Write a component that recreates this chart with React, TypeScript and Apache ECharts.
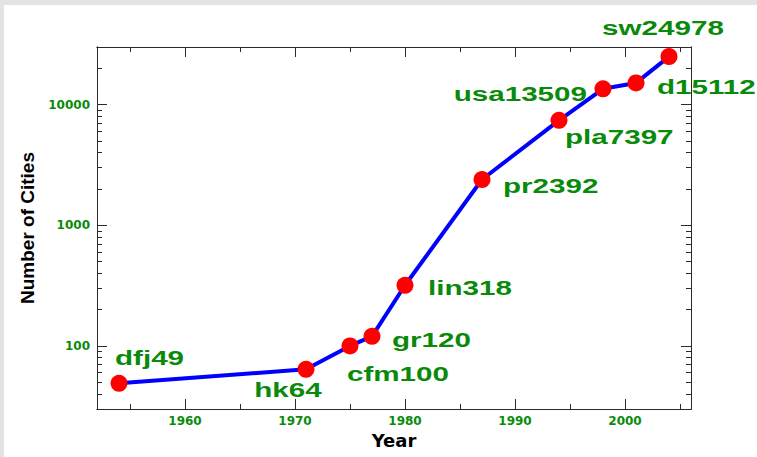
import React, { useEffect, useRef } from "react";
import * as echarts from "echarts";

// ---- data ----
const years = [1954, 1971, 1975, 1977, 1980, 1987, 1994, 1998, 2001, 2004];
const cities = [49, 64, 100, 120, 318, 2392, 7397, 13509, 15112, 24978];
const codes = ["dfj", "hk", "cfm", "gr", "lin", "pr", "pla", "usa", "d", "sw"];

const xMajorTicks = [1960, 1970, 1980, 1990, 2000];
const xMinorTicks = [1955, 1965, 1975, 1985, 1995, 2005];
const yMajorTicks = [100, 1000, 10000];
const yMinorTicks = [
  40, 50, 60, 70, 80, 90, 200, 300, 400, 500, 600, 700, 800, 900, 2000, 3000,
  4000, 5000, 6000, 7000, 8000, 9000, 20000,
];

// ---- label placement (pixel offsets from the point) ----
const labelDx = [-4, -18, -3, 20, 23, 21, 6, -16, 21, -6];
const labelDy = [-25, 21, 28, 4, 3, 6, 17, 5, 4, -29];
const labelAlign = ["left", "center", "left", "left", "left", "left", "left", "right", "left", "center"];

const GREEN = "#0a8a0a";
const AXIS = "#2a2a2a";

export default function App() {
  const ref = useRef<HTMLDivElement>(null);

  useEffect(() => {
    if (!ref.current) return;
    const chart = echarts.init(ref.current, null, { renderer: "svg" });

    const pts = years.map((y, i) => [y, cities[i]]);
    const plain = (v: number) => String(Math.round(v));

    const xBase = {
      type: "value",
      min: 1952,
      max: 2006,
      splitLine: { show: false },
      axisLine: { show: true, onZero: false, lineStyle: { color: AXIS, width: 1 } },
    };
    const yBase = {
      type: "log",
      logBase: 10,
      min: 30,
      max: 30000,
      splitLine: { show: false },
      axisLine: { show: true, onZero: false, lineStyle: { color: AXIS, width: 1 } },
    };
    const tickStyle = { color: AXIS, width: 1 };
    const labelFont = {
      color: GREEN,
      fontFamily: "DejaVu Sans",
      fontWeight: "bold",
      fontSize: 12,
      formatter: plain,
    };

    const option: any = {
      animation: false,
      backgroundColor: "#ffffff",
      graphic: [
        { type: "rect", shape: { x: 0, y: 0, width: 757, height: 5 }, style: { fill: "#e3e3e3" }, silent: true },
        { type: "rect", shape: { x: 0, y: 0, width: 4, height: 457 }, style: { fill: "#e3e3e3" }, silent: true },
      ],
      grid: {
        left: 97,
        right: 66,
        top: 47,
        bottom: 48,
        containLabel: false,
        outerBoundsMode: "none",
      },
      xAxis: [
        {
          ...xBase,
          position: "bottom",
          name: "Year",
          nameLocation: "middle",
          nameGap: 15,
          nameTextStyle: { color: "#000", fontFamily: "DejaVu Sans", fontWeight: "bold", fontSize: 18 },
          axisTick: { show: true, inside: true, length: 10, lineStyle: tickStyle, customValues: xMajorTicks },
          axisLabel: { show: true, margin: 6, ...labelFont, customValues: xMajorTicks },
        },
        {
          ...xBase,
          position: "bottom",
          axisTick: { show: true, inside: true, length: 5, lineStyle: tickStyle, customValues: xMinorTicks },
          axisLabel: { show: false },
        },
        {
          ...xBase,
          position: "top",
          axisTick: { show: true, inside: true, length: 10, lineStyle: tickStyle, customValues: xMajorTicks },
          axisLabel: { show: false },
        },
        {
          ...xBase,
          position: "top",
          axisTick: { show: true, inside: true, length: 5, lineStyle: tickStyle, customValues: xMinorTicks },
          axisLabel: { show: false },
        },
      ],
      yAxis: [
        {
          ...yBase,
          position: "left",
          name: "Number of Cities",
          nameLocation: "middle",
          nameGap: 48,
          nameRotate: 90,
          nameTextStyle: { color: "#000", fontFamily: "Liberation Sans", fontWeight: "bold", fontSize: 19 },
          axisTick: { show: true, inside: true, length: 10, lineStyle: tickStyle, customValues: yMajorTicks },
          axisLabel: { show: true, margin: 7, ...labelFont, customValues: yMajorTicks },
        },
        {
          ...yBase,
          position: "left",
          axisTick: { show: true, inside: true, length: 5, lineStyle: tickStyle, customValues: yMinorTicks },
          axisLabel: { show: false },
        },
        {
          ...yBase,
          position: "right",
          axisTick: { show: true, inside: true, length: 10, lineStyle: tickStyle, customValues: yMajorTicks },
          axisLabel: { show: false },
        },
        {
          ...yBase,
          position: "right",
          axisTick: { show: true, inside: true, length: 5, lineStyle: tickStyle, customValues: yMinorTicks },
          axisLabel: { show: false },
        },
      ],
      series: [
        {
          type: "line",
          xAxisIndex: 0,
          yAxisIndex: 0,
          data: pts,
          symbol: "circle",
          symbolSize: 17,
          showAllSymbol: true,
          lineStyle: { color: "#0000ff", width: 4 },
          itemStyle: { color: "#ff0000", borderWidth: 0 },
          emphasis: { disabled: true },
          clip: false,
          z: 2,
        },
        {
          type: "custom",
          xAxisIndex: 0,
          yAxisIndex: 0,
          data: pts,
          clip: false,
          z: 3,
          encode: { x: 0, y: 1 },
          renderItem: (params: any, api: any) => {
            const i = params.dataIndex;
            const p = api.coord([api.value(0), api.value(1)]);
            return {
              type: "text",
              x: p[0] + labelDx[i],
              y: p[1] + labelDy[i],
              scaleX: 1.48,
              scaleY: 1,
              style: {
                text: codes[i] + cities[i],
                x: 0,
                y: 0,
                fill: GREEN,
                fontFamily: "Liberation Sans",
                fontWeight: "bold",
                fontSize: 20,
                align: labelAlign[i],
                verticalAlign: "middle",
              },
            };
          },
        },
      ],
    };

    chart.setOption(option);
    return () => chart.dispose();
  }, []);

  return (
    <div
      ref={ref}
      style={{ position: "fixed", left: 0, top: 0, width: 757, height: 457, background: "#fff" }}
    />
  );
}
